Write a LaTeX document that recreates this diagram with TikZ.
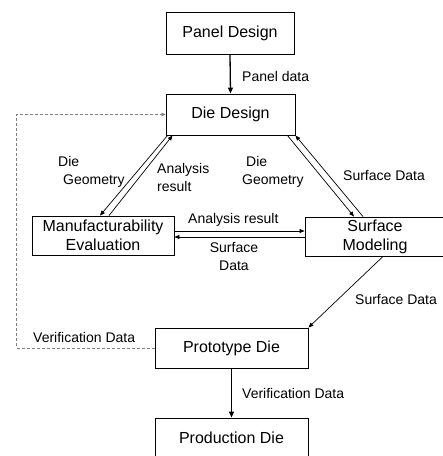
\documentclass[tikz,border=0pt]{standalone}
\usepackage{fontspec}
\setmainfont{Liberation Sans}
\usetikzlibrary{arrows.meta,calc}
\begin{document}
\begin{tikzpicture}[x=1pt,y=-1pt,
 box/.style={draw,line width=0.9pt,inner sep=0pt,align=center,font=\fontsize{16}{19}\selectfont},
 lbl/.style={inner sep=0pt,anchor=west,align=left,font=\fontsize{14}{17.5}\selectfont},
 thinarrow/.style={line width=0.7pt,-{Triangle[length=5pt,width=4pt]}},
 thickarrow/.style={line width=1.3pt,-{Triangle[length=6pt,width=5pt]}},
 fb/.style={draw=gray,line width=0.7pt,dash pattern=on 3pt off 2pt,-{Triangle[length=4pt,width=3.5pt]}}]
\useasboundingbox (0,0) rectangle (443,456);
\clip (0,0) rectangle (443,456);
\node[box,minimum width=128pt,minimum height=42pt] (pd) at (230,33) {Panel Design};
\node[box,minimum width=129pt,minimum height=41pt] (dd) at (230.5,114.5) {Die Design};
\node[box,minimum width=142pt,minimum height=39pt] (mf) at (103,235.5) {Manufacturability\\Evaluation};
\node[box,minimum width=140pt,minimum height=39pt] (sm) at (375,236.5) {Surface\\Modeling};
\node[box,minimum width=153pt,minimum height=40pt] (pt) at (231.5,348) {Prototype Die};
\node[box,minimum width=153pt,minimum height=40pt] (prd) at (231.5,438) {Production Die};

\draw[thickarrow] (pd.south) -- (dd.north);
\draw[thinarrow] ($(dd.south west)+(2,0)$) -- ($(mf.north)+(-3,0)$);
\draw[thinarrow] ($(mf.north)+(6,0)$) -- ($(dd.south west)+(7,0)$);
\draw[thinarrow] ($(dd.south east)+(-8,0)$) -- ($(sm.north)+(-21,0)$);
\draw[thinarrow] ($(sm.north)+(-12,0)$) -- (dd.south east);
\draw[thinarrow] ($(mf.east)+(0,-4.5)$) -- ($(sm.west)+(0,-5.5)$);
\draw[thinarrow] ($(sm.west)+(0,0.5)$) -- ($(mf.east)+(0,1.5)$);
\draw[thinarrow] ($(sm.south)+(8,0)$) -- (pt.north east);
\draw[thickarrow] (pt.south) -- (prd.north);
\draw[fb] (pt.west) -| ($(dd.west)+(-149,0)$) -- (dd.west);

\node[lbl] (l1) at (242,76) {Panel data};
\node[lbl] (l2) at (58,172) {Die\\\hspace*{5pt}Geometry};
\node[lbl] (l3) at (157,177.5) {Analysis\\result};
\node[lbl] (l4) at (242,172) {\hspace*{4pt}Die\\Geometry};
\node[lbl] (l5) at (343,175) {Surface Data};
\node[lbl] (l6) at (188,220) {Analysis result};
\node[lbl,anchor=center,align=center] (l7) at (234,256.5) {Surface\\Data};
\node[lbl] (l8) at (355,299) {Surface Data};
\node[lbl] (l9) at (33,337) {Verification Data};
\node[lbl] (l10) at (242,393) {Verification Data};
\end{tikzpicture}
\end{document}
